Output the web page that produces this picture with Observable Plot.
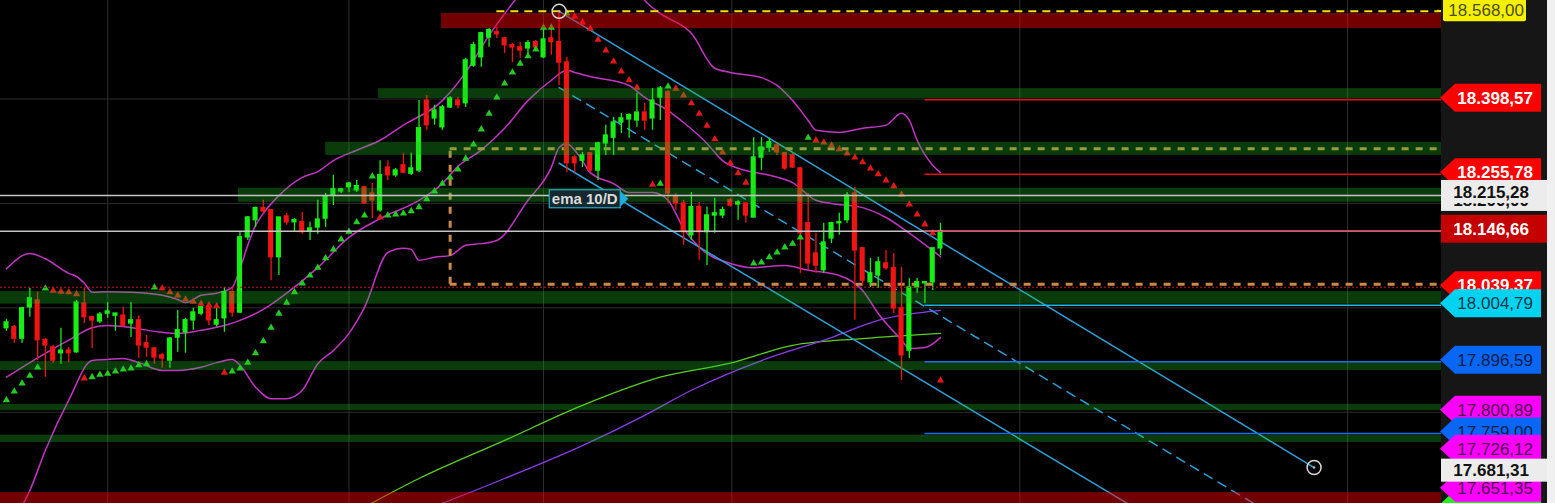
<!DOCTYPE html>
<html><head><meta charset="utf-8">
<script src="https://cdn.jsdelivr.net/npm/d3@7"></script>
<script src="https://cdn.jsdelivr.net/npm/@observablehq/plot@0.6"></script>
<style>
html,body{margin:0;padding:0;background:#f0f0f0;overflow:hidden}
#chart{width:1547px;height:503px}
svg{display:block}
</style></head><body><div id="chart"></div>
<script>
// ---------- candle data (index = bar number) ----------
const open = [17961,17963,17941,18001,18014,17938,17924,17913,17918,17915,
18008,17982,17974,17989,17985,17985,17970,17976,17932,17922,
17909,17899,17943,17953,17976,17989,18001,17968,17980,18030,
17991,18135,18168,18191,18187,18097,18175,18164,18164,18146,
18154,18171,18215,18223,18231,18225,18231,18219,18187,18269,
18254,18273,18257,18263,18397,18363,18346,18384,18397,18392,
18464,18480,18518,18528,18516,18503,18499,18497,18509,18480,
18516,18509,18470,18288,18282,18296,18263,18315,18326,18355,
18361,18359,18374,18363,18403,18413,18212,18200,18139,18193,
18145,18177,18177,18206,18198,18200,18173,18288,18307,18311,
18296,18292,18267,18162,18104,18072,18133,18162,18168,18219,
18114,18049,18062,18085,18076,17999,17918,18039,18047,18049,
18114];
const high = [17978,17966,18001,18037,18030,17941,17928,17961,17924,18014,
18037,17982,17991,18010,17989,18001,18010,17985,17947,17924,
17913,17943,17995,17980,17999,18008,18008,18008,18039,18037,
18145,18175,18193,18206,18187,18173,18181,18171,18183,18164,
18206,18219,18254,18229,18240,18244,18231,18238,18282,18282,
18267,18296,18296,18397,18407,18388,18388,18405,18403,18478,
18509,18528,18535,18537,18518,18507,18509,18512,18512,18537,
18541,18568,18480,18292,18298,18296,18317,18350,18365,18372,
18372,18411,18392,18420,18424,18417,18219,18206,18221,18202,
18193,18210,18193,18210,18206,18200,18326,18326,18325,18315,
18298,18296,18269,18219,18143,18162,18164,18181,18221,18231,
18114,18095,18097,18110,18104,18077,18056,18056,18049,18114,
18162];
const low = [17955,17932,17932,17982,17899,17867,17894,17892,17895,17913,
17970,17922,17970,17980,17955,17963,17943,17903,17905,17892,
17884,17884,17915,17913,17957,17985,17966,17963,17953,17982,
17989,18129,18154,18181,18052,18062,18158,18145,18141,18129,
18141,18154,18196,18219,18221,18221,18198,18171,18183,18244,
18250,18257,18254,18259,18340,18350,18340,18382,18382,18384,
18461,18461,18499,18516,18487,18470,18478,18480,18493,18478,
18484,18426,18259,18259,18269,18259,18244,18292,18292,18334,
18325,18346,18340,18340,18359,18200,18187,18120,18129,18091,
18081,18143,18171,18193,18168,18162,18173,18263,18298,18292,
18263,18267,18066,18072,18066,18066,18123,18139,18162,17976,
18043,18039,18037,18072,17989,17861,17903,18028,18008,18033,
18100];
const close = [17972,17941,17999,18018,17938,17928,17899,17918,17913,18010,
17982,17976,17987,17993,17989,17966,17976,17928,17924,17905,
17903,17941,17957,17976,17991,18001,17976,17976,18030,17991,
18135,18173,18191,18185,18097,18173,18164,18168,18145,18152,
18169,18213,18227,18227,18238,18233,18200,18206,18254,18254,
18263,18259,18267,18344,18350,18378,18384,18401,18388,18474,
18503,18526,18532,18524,18503,18499,18493,18507,18499,18514,
18509,18470,18277,18277,18292,18263,18315,18330,18355,18363,
18369,18374,18359,18397,18420,18219,18200,18145,18193,18145,
18177,18181,18187,18196,18202,18177,18288,18307,18317,18298,
18267,18269,18143,18085,18081,18125,18162,18164,18215,18110,
18052,18066,18087,18076,17999,17909,18039,18049,18049,18114,
18147];

// ---------- parabolic SAR ----------
const sarPrice = [17823,17840,17855,17870,17886,18037,18033,18031,18030,18026,
17865,17867,17872,17874,17878,17882,17884,17890,17892,18039,
18037,18030,18024,18016,18012,18008,18005,18003,17876,17878,
17884,17895,17913,17936,17962,17989,18010,18030,18047,18062,
18077,18095,18112,18131,18146,18164,18177,18252,18173,18177,
18179,18181,18185,18193,18208,18223,18238,18250,18265,18286,
18313,18342,18372,18403,18430,18451,18468,18482,18495,18537,
18537,null,18564,18558,18547,18535,18514,18493,18472,18453,
18436,18422,null,18236,18238,18424,18420,18407,18392,18372,
18349,18323,18298,18277,18258,18240,18085,18087,18097,18106,
18116,18123,18135,18326,18321,18317,18311,18304,18296,18288,
18279,18267,18256,18244,18233,18217,18198,18179,18160,18143,
17861];
const sarDir = ("GGGGGGRRRR"+"RGGGGGGGGG"+"RRRRRRRRRG"+"GGGGGGGGGG"+"GGGGGGGGRG"+
  "GGGGGGGGGG"+"GGGGGGGGGG"+"G-GRRRRRRR"+"RR-RGGRRRR"+"RRRRRRGGGG"+"GGGGRRRRRR"+"RRRRRRRRRR"+"R").split("");

// ---------- Bollinger bands ----------
const upperIdx = [0,3,5,8,9,10,11,13,16,20,22,23,25,27,29,30,31,32,33,35,38,40,42,45,48,51,56,59,62,65,70,75,80,82,84,88,91,93,97,99,101,103,104,107,110,113,115,116,117,119,120];
const upperVal = [18075,18104,18094,18066,18060,18047,18030,18031,18030,18024,18016,18010,18024,18028,18039,18075,18120,18158,18181,18215,18250,18261,18282,18302,18321,18350,18397,18451,18522,18583,18666,18685,18637,18589,18564,18526,18459,18451,18441,18426,18397,18359,18340,18336,18344,18350,18373,18359,18321,18273,18259];
const middleIdx = [0,3,8,11,13,16,20,22,25,28,30,33,36,40,44,48,53,56,58,61,64,67,70,72,73,75,80,82,85,87,90,92,95,98,101,104,106,110,113,116,120];
const middleVal = [17867,17895,17938,17962,17966,17962,17953,17951,17957,17966,17976,17997,18028,18077,18135,18171,18206,18238,18271,18302,18344,18397,18436,18455,18451,18443,18426,18403,18378,18355,18315,18282,18263,18254,18240,18206,18200,18192,18173,18143,18098];
const lowerIdx = [0,3,5,8,11,13,15,17,20,22,25,27,29,30,32,34,36,38,40,42,44,46,49,51,52,53,55,57,59,61,63,67,70,71,72,73,74,75,78,80,83,85,87,89,93,96,100,103,107,110,112,115,116,118,120];
const lowerVal = [17574,17650,17727,17823,17899,17901,17903,17895,17880,17880,17886,17895,17901,17890,17848,17826,17826,17842,17893,17918,17951,18001,18106,18114,18112,18091,18097,18100,18120,18123,18129,18206,18269,18307,18315,18302,18282,18259,18238,18221,18221,18206,18152,18116,18085,18077,18081,18072,18062,18033,17989,17938,17922,17924,17943];

// ---------- moving averages ----------
const greenMaIdx = [44,53,64,74,84,93,101,110,120];
const greenMaVal = [17602,17673,17746,17813,17867,17894,17928,17941,17951];
const purpleMaIdx = [53,64,74,82,88,97,106,112,120];
const purpleMaVal = [17608,17673,17736,17794,17842,17899,17943,17976,17995];

// ---------- channel ----------
const channelIdx = [71,168];
const channelUpper = [18568,17694];
const channelMid = [18422,17556];
const channelLower = [18277,17411];

// ---------- zones ----------
const zoneStart = [55.9,47.8,41,29.8,-0.8,-0.8,-0.8,-0.8,-0.8];
const zoneHigh = [18564,18420,18317,18229,18031,17897,17815,17756,17646];
const zoneLow  = [18535,18401,18292,18202,18007,17880,17803,17742,17600];
const zoneKind = ["R","G","G","G","G","G","G","G","R"];

// ---------- horizontal levels ----------
const fullLines = [18215.28,18146.66];
const dottedLevel = 18039.37;
const highLevel = 18568;
const highLevelStart = 63;
const boxLeft = 57, boxTop = 18305, boxBottom = 18045;
const rightLevelStart = 118;
const rightLevels = [18398.57,18255.78,18146.66,18004.79,17896.59,17759.00];
const rightLevelKind = ["red","red","pink","cyan","blue","blue"];
const gridX = [13,44,69,93.2,130.2,172.3];
const gridY = [17800,18000,18200,18400];

// ---------- price tags ----------
const labelValues = [18568.00,18398.57,18255.78,18200.00,18215.28,18146.66,18039.37,18004.79,17896.59,17800.89,17759.00,17726.12,17620.00,17651.35,17681.31];
const labelKinds  = ["yellow","red","red","gray","gray","darkred","red","cyan","blue","magenta","blue","magenta","green","magenta","gray"];
const emaLabelIdx = 69.8, emaLabelVal = 18208, emaLabelText = "ema 10/D";

// ---------- build ----------
const UP = "#16ee16", DOWN = "#f01414";
const candles = open.map((o,i)=>({i,o,h:high[i],l:low[i],c:close[i],up:close[i]>=o}));
const sar = sarPrice.map((v,i)=>({i,v,d:sarDir[i]})).filter(d=>d.v!=null);
const pts = (I,V)=>I.map((x,k)=>({x,y:V[k]}));
const xDomain = [-0.77,184.37];
const yDomain = [17625.1,18588.8];
const zones = zoneStart.map((s,k)=>({s,e:xDomain[1],hi:zoneHigh[k],lo:zoneLow[k],kind:zoneKind[k]}));
const lvlColor = {red:"#e81010",pink:"#e0506a",cyan:"#1fb8e0",blue:"#1d6cf0"};
const rl = rightLevels.map((v,k)=>({v,s:rightLevelStart,e:xDomain[1],c:lvlColor[rightLevelKind[k]]}));
const chStyle = {x:"x",y:"y",stroke:"#2f9fd6",strokeWidth:1.5,clip:true};

const plot = Plot.plot({
  width:1547, height:503, marginLeft:0, marginRight:106, marginTop:0, marginBottom:0,
  x:{domain:xDomain, axis:null},
  y:{domain:yDomain, axis:null},
  style:{background:"linear-gradient(to right,#000 0px,#000 1441px,#161616 1441px)",overflow:"hidden"},
  marks:[
    Plot.ruleX(gridX,{stroke:"#2e2e2e",strokeWidth:1}),
    Plot.ruleY(gridY,{stroke:"#2e2e2e",strokeWidth:1}),
    Plot.line(pts(greenMaIdx,greenMaVal),{x:"x",y:"y",stroke:"#5ccf22",strokeWidth:1.3,curve:"monotone-x",clip:true}),
    Plot.line(pts(purpleMaIdx,purpleMaVal),{x:"x",y:"y",stroke:"#8a3ce8",strokeWidth:1.3,curve:"monotone-x",clip:true}),
    Plot.line(pts(upperIdx,upperVal),{x:"x",y:"y",stroke:"#c235c2",strokeWidth:1.5,curve:"monotone-x",clip:true}),
    Plot.line(pts(middleIdx,middleVal),{x:"x",y:"y",stroke:"#c235c2",strokeWidth:1.5,curve:"monotone-x",clip:true}),
    Plot.line(pts(lowerIdx,lowerVal),{x:"x",y:"y",stroke:"#c235c2",strokeWidth:1.5,curve:"monotone-x",clip:true}),
    Plot.line(pts(channelIdx,channelUpper),chStyle),
    Plot.line(pts(channelIdx,channelLower),chStyle),
    Plot.line(pts(channelIdx,channelMid),{...chStyle,strokeDasharray:"9,7"}),
    // orange dashed box
    Plot.ruleY([boxTop,boxBottom],{x1:boxLeft,x2:xDomain[1],stroke:"#c98a4c",strokeWidth:3,strokeDasharray:"7,7"}),
    Plot.ruleX([boxLeft],{y1:boxBottom,y2:boxTop,stroke:"#c98a4c",strokeWidth:3,strokeDasharray:"7,7"}),
    // candles
    Plot.ruleX(candles,{x:"i",y1:"l",y2:"h",stroke:d=>d.up?UP:DOWN,strokeWidth:1.3,clip:true}),
    Plot.rect(candles,{x1:d=>d.i-0.33,x2:d=>d.i+0.33,y1:d=>Math.min(d.o,d.c),y2:d=>Math.max(d.o,d.c),fill:d=>d.up?UP:DOWN,insetTop:-0.7,insetBottom:-0.7,clip:true}),
    Plot.dot(sar,{x:"i",y:"v",symbol:"triangle",r:2.7,fill:d=>d.d==="G"?"#22cc22":"#e01818",stroke:"none"}),
    // zones over everything
    Plot.rect(zones,{x1:"s",x2:"e",y1:"lo",y2:"hi",fill:d=>d.kind==="G"?"#22c422":"#ff0000",fillOpacity:d=>d.kind==="G"?0.3:0.45,clip:true}),
    // levels
    Plot.ruleY(fullLines,{stroke:"#c4c4c4",strokeWidth:1.5}),
    Plot.ruleY([dottedLevel],{stroke:"#b81c1c",strokeWidth:1.2,strokeDasharray:"2,2"}),
    Plot.ruleY([highLevel],{x1:highLevelStart,x2:xDomain[1],stroke:"#f2e000",strokeWidth:2,strokeDasharray:"8,6"}),
    Plot.ruleY(rl,{y:"v",x1:"s",x2:"e",stroke:"c",strokeWidth:1.5}),
    Plot.dot(pts(channelIdx,channelUpper),{x:"x",y:"y",r:7,stroke:"#d8d8d8",strokeWidth:1.5,fill:"none"}),
    Plot.dot(pts(channelIdx,channelUpper),{x:"x",y:"y",r:1.2,fill:"#bbb"})
  ]
});
document.getElementById("chart").appendChild(plot);

// ---------- price tags & annotation (positioned through Plot's scales) ----------
const sx = plot.scale("x"), sy = plot.scale("y");
const fmt = d3.formatLocale({decimal:",",thousands:".",grouping:[3],currency:["",""]}).format(",.2f");
const g = d3.select(plot).append("g").attr("font-family","'Liberation Sans', Arial, sans-serif").attr("font-size",17);
const styles = {
  yellow:{shape:"yellow",bg:"#f4f000",fg:"#4e4e08",w:"normal"},
  red:{shape:"arrow",bg:"#ff0000",fg:"#ffffff",w:"bold"},
  darkred:{shape:"box",bg:"#c40000",fg:"#ffffff",w:"bold"},
  gray:{shape:"box",bg:"#ececec",fg:"#111111",w:"bold"},
  cyan:{shape:"arrow",bg:"#00d2f2",fg:"#083848",w:"normal"},
  blue:{shape:"arrow",bg:"#0a66f5",fg:"#06204e",w:"normal"},
  magenta:{shape:"arrow",bg:"#ff00ff",fg:"#500a50",w:"normal"},
  green:{shape:"arrow",bg:"#22ee22",fg:null,w:"normal"}
};
labelValues.forEach((v,k)=>{
  const st = styles[labelKinds[k]];
  const y = sy.apply(v);
  let cy = y, tx = 1533;
  if (st.shape==="arrow") {
    cy = y - 1.5;
    g.append("path").attr("d",`M1440,${cy} L1455,${cy-14} L1541,${cy-14} L1541,${cy+14} L1455,${cy+14} Z`).attr("fill",st.bg);
  } else if (st.shape==="box") {
    cy = labelKinds[k]==="gray" ? y-3.5 : y-2;
    const h = labelKinds[k]==="gray" ? 23 : 28;
    g.append("rect").attr("x",1441).attr("y",cy-h/2).attr("width",106).attr("height",h).attr("fill",st.bg);
    tx = 1529;
  } else {
    cy = y - 1;
    g.append("rect").attr("x",1443).attr("y",cy-11.5).attr("width",83).attr("height",23).attr("rx",2).attr("fill",st.bg);
    g.append("rect").attr("x",1437).attr("y",y-1).attr("width",4).attr("height",2).attr("fill","#f2e000");
    tx = 1524;
  }
  if (st.fg) g.append("text").attr("x",tx).attr("y",cy).attr("dy","0.36em").attr("text-anchor","end")
    .attr("fill",st.fg).attr("font-weight",st.w).text(fmt(v));
});

// ema label
const ex = sx.apply(emaLabelIdx), ey = sy.apply(emaLabelVal);
const ga = d3.select(plot).append("g");
ga.append("rect").attr("x",ex).attr("y",ey-9).attr("width",71).attr("height",18).attr("fill","#17292f").attr("stroke","#2aa6c8").attr("stroke-width",1.2);
ga.append("path").attr("d",`M${ex+71},${ey-8} L${ex+79},${ey} L${ex+71},${ey+8} Z`).attr("fill","#1eaee0");
ga.append("text").attr("x",ex+35.5).attr("y",ey).attr("dy","0.36em").attr("text-anchor","middle")
  .attr("font-family","'Liberation Sans', Arial, sans-serif").attr("font-size",15).attr("font-weight","bold")
  .attr("fill","#d8dcdc").text(emaLabelText);
</script>
</body></html>
